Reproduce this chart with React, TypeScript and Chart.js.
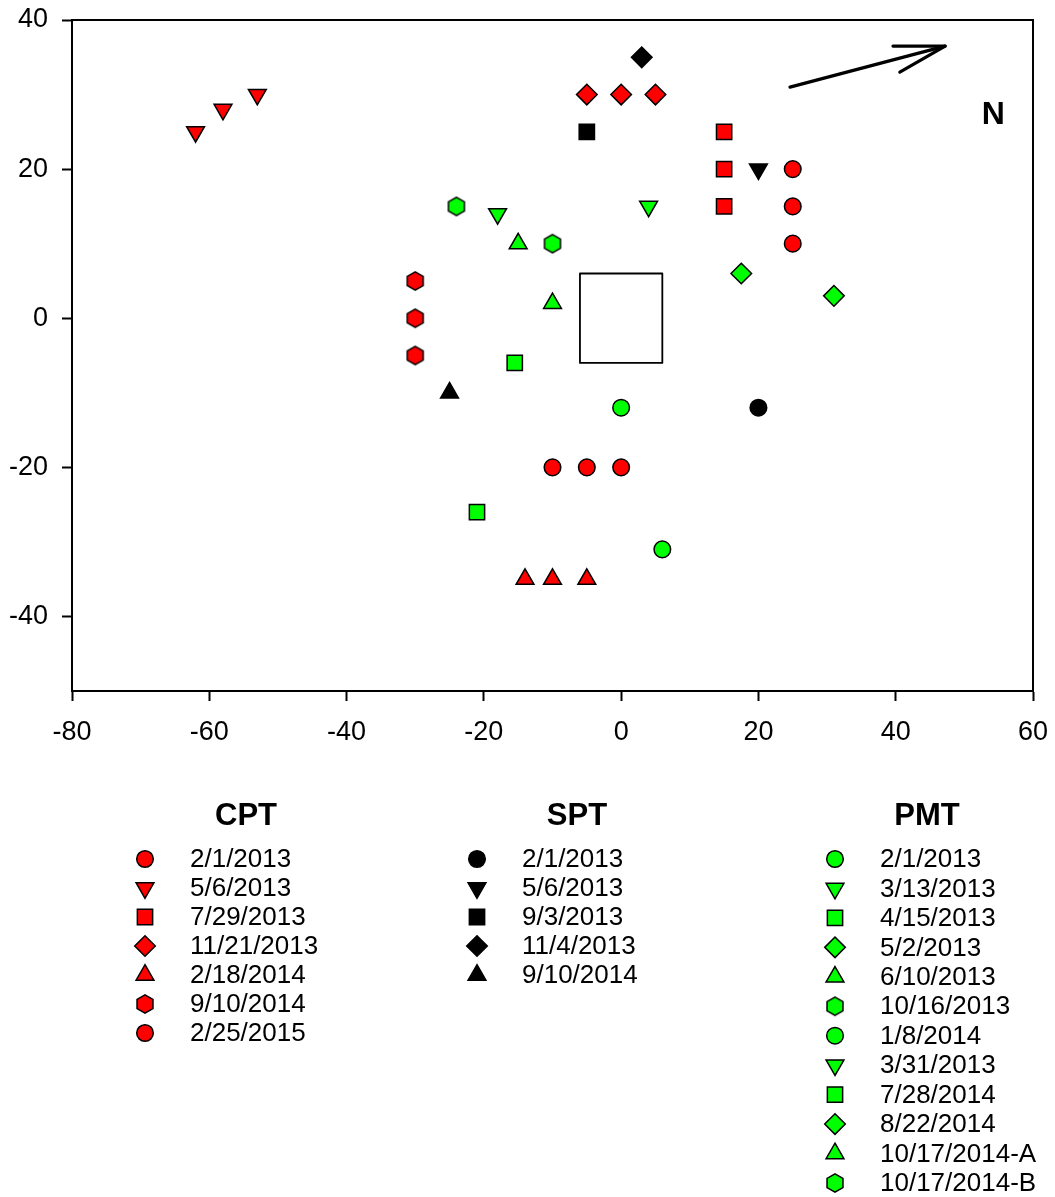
import React, { useEffect, useRef } from "react";
import { Chart, registerables } from "chart.js";
import * as helpers from "chart.js/helpers";

Chart.register(...registerables);

// ---- data -----------------------------------------------------------
const X_TICKS = [-80, -60, -40, -20, 0, 20, 40, 60];
const Y_TICKS = [-40, -20, 0, 20, 40];

const cptDates = ["2/1/2013", "5/6/2013", "7/29/2013", "11/21/2013", "2/18/2014", "9/10/2014", "2/25/2015"];
const cptX = [[25, 25, 25], [-62, -58, -53], [15, 15, 15], [-5, 0, 5], [-14, -10, -5], [-30, -30, -30], [-10, -5, 0]];
const cptY = [[20, 15, 10], [25, 28, 30], [25, 20, 15], [30, 30, 30], [-35, -35, -35], [5, 0, -5], [-20, -20, -20]];

const sptDates = ["2/1/2013", "5/6/2013", "9/3/2013", "11/4/2013", "9/10/2014"];
const sptX = [[20], [20], [-5], [3], [-25]];
const sptY = [[-12], [20], [25], [35], [-10]];

const pmtDates = [
  "2/1/2013", "3/13/2013", "4/15/2013", "5/2/2013", "6/10/2013", "10/16/2013",
  "1/8/2014", "3/31/2013", "7/28/2014", "8/22/2014", "10/17/2014-A", "10/17/2014-B",
];
const pmtX = [[0], [-18], [-15.5], [17.5], [-15], [-24], [6], [4], [-21], [31], [-10], [-10]];
const pmtY = [[-12], [14], [-6], [6], [10], [15], [-31], [15], [-26], [3], [2], [10]];

// outline of the central square
const boxX = [-6, -6, 6, 6, -6];
const boxY = [-6, 6, 6, -6, -6];

// north arrow: shaft, then head barbs
const arrowShaftX = [24.6, 47.2];
const arrowShaftY = [31, 36.5];
const arrowHeadX = [39.6, 47.2, 40.6];
const arrowHeadY = [36.5, 36.5, 33.0];
const northLabel = { text: "N", x: 54.2, y: 27.3 };

// ---- styles ---------------------------------------------------------
const RED = "#ff0000";
const GREEN = "#00ff00";
const BLACK = "#000000";
const FONT = "'Liberation Sans', Arial, Helvetica, sans-serif";

const SHAPES = [
  { style: "circle", rotation: 0, radius: 8.3 },
  { style: "triangle", rotation: 180, radius: 10.3 },
  { style: "rect", rotation: 0, radius: 10.8 },
  { style: "rectRot", rotation: 0, radius: 10.3 },
  { style: "triangle", rotation: 0, radius: 10.3 },
  { style: "hex", rotation: 0, radius: 9 },
];

function makeHexagon(fill: string, border: string): HTMLCanvasElement {
  const c = document.createElement("canvas");
  c.width = 22;
  c.height = 22;
  const ctx = c.getContext("2d")!;
  const R = 9.2;
  ctx.beginPath();
  for (let k = 0; k < 6; k++) {
    const a = (-90 + k * 60) * (Math.PI / 180);
    const px = 11 + R * Math.cos(a);
    const py = 11 + R * Math.sin(a);
    if (k === 0) ctx.moveTo(px, py);
    else ctx.lineTo(px, py);
  }
  ctx.closePath();
  ctx.fillStyle = fill;
  ctx.fill();
  ctx.lineWidth = 1.5;
  ctx.strokeStyle = border;
  ctx.stroke();
  return c;
}

function toPoints(xs: number[], ys: number[]) {
  return xs.map((x, i) => ({ x, y: ys[i] }));
}

// keep tick labels from pushing the plot area inwards
function clearOverhang(s: any) {
  s.paddingTop = 0;
  s.paddingBottom = 0;
  s.paddingLeft = 0;
  s.paddingRight = 0;
}

export default function App() {
  const canvasRef = useRef<HTMLCanvasElement | null>(null);

  useEffect(() => {
    if (!canvasRef.current) return;

    const hexImg: Record<string, HTMLCanvasElement> = {
      [RED]: makeHexagon(RED, BLACK),
      [BLACK]: makeHexagon(BLACK, BLACK),
      [GREEN]: makeHexagon(GREEN, BLACK),
    };

    const markerStyle = (i: number, color: string) => {
      const s = SHAPES[i % SHAPES.length];
      return {
        pointStyle: s.style === "hex" ? hexImg[color] : s.style,
        rotation: s.rotation,
        radius: s.radius,
      };
    };

    const groups = [
      { title: "CPT", dates: cptDates, xs: cptX, ys: cptY, color: RED, titleX: 246, markerX: 145, textX: 190, rowStep: 29 },
      { title: "SPT", dates: sptDates, xs: sptX, ys: sptY, color: BLACK, titleX: 577, markerX: 477, textX: 522, rowStep: 29 },
      { title: "PMT", dates: pmtDates, xs: pmtX, ys: pmtY, color: GREEN, titleX: 927, markerX: 835, textX: 880, rowStep: 29.45 },
    ];

    const datasets: any[] = [];
    groups.forEach((g) => {
      g.dates.forEach((d, i) => {
        const m = markerStyle(i, g.color);
        datasets.push({
          type: "scatter",
          label: `${g.title} ${d}`,
          data: toPoints(g.xs[i], g.ys[i]),
          showLine: false,
          pointStyle: m.pointStyle,
          pointRotation: m.rotation,
          pointRadius: m.radius,
          pointHoverRadius: m.radius,
          pointBackgroundColor: g.color,
          pointBorderColor: BLACK,
          pointBorderWidth: 1.5,
        });
      });
    });

    const lineSet = (label: string, xs: number[], ys: number[], width: number) => ({
      type: "scatter",
      label,
      data: toPoints(xs, ys),
      showLine: true,
      tension: 0,
      borderColor: BLACK,
      borderWidth: width,
      borderCapStyle: "round",
      borderJoinStyle: "round",
      pointRadius: 0,
      pointHoverRadius: 0,
      fill: false,
    });
    datasets.push(lineSet("box", boxX, boxY, 1.8));
    datasets.push(lineSet("arrow", arrowShaftX, arrowShaftY, 3.2));
    datasets.push(lineSet("arrowhead", arrowHeadX, arrowHeadY, 3.2));

    const framePlugin = {
      id: "frame",
      beforeDatasetsDraw(chart: any) {
        const { ctx, chartArea: a } = chart;
        ctx.save();
        ctx.strokeStyle = BLACK;
        ctx.lineWidth = 2;
        ctx.beginPath();
        ctx.moveTo(a.left, a.top);
        ctx.lineTo(a.right, a.top);
        ctx.lineTo(a.right, a.bottom);
        ctx.stroke();
        ctx.restore();
      },
    };

    const northPlugin = {
      id: "northLabel",
      afterDatasetsDraw(chart: any) {
        const { ctx, scales } = chart;
        ctx.save();
        ctx.fillStyle = BLACK;
        ctx.font = `bold 32px ${FONT}`;
        ctx.textAlign = "center";
        ctx.textBaseline = "middle";
        ctx.fillText(northLabel.text, scales.x.getPixelForValue(northLabel.x), scales.y.getPixelForValue(northLabel.y));
        ctx.restore();
      },
    };

    const legendPlugin = {
      id: "groupLegend",
      afterDraw(chart: any) {
        const { ctx } = chart;
        ctx.save();
        groups.forEach((g) => {
          ctx.fillStyle = BLACK;
          ctx.font = `bold 31px ${FONT}`;
          ctx.textAlign = "center";
          ctx.textBaseline = "middle";
          ctx.fillText(g.title, g.titleX, 816);
          g.dates.forEach((d, i) => {
            const y = 859 + i * g.rowStep;
            const m = markerStyle(i, g.color);
            ctx.fillStyle = g.color;
            ctx.strokeStyle = BLACK;
            ctx.lineWidth = 1.5;
            helpers.drawPoint(ctx, { pointStyle: m.pointStyle, rotation: m.rotation, radius: m.radius, borderWidth: 1.5 }, g.markerX, y);
            ctx.fillStyle = BLACK;
            ctx.font = `26px ${FONT}`;
            ctx.textAlign = "left";
            ctx.textBaseline = "middle";
            ctx.fillText(d, g.textX, y + 1);
          });
        });
        ctx.restore();
      },
    };

    const axisCommon = {
      grid: {
        display: true,
        drawOnChartArea: false,
        drawTicks: true,
        tickLength: 10,
        tickWidth: 2,
        tickColor: BLACK,
      },
      border: { display: true, color: BLACK, width: 2 },
    };

    const chart = new Chart(canvasRef.current, {
      type: "scatter",
      data: { datasets },
      options: {
        animation: false,
        responsive: true,
        maintainAspectRatio: false,
        layout: { padding: { top: 20, right: 22, left: 0, bottom: 446 } },
        plugins: { legend: { display: false }, tooltip: { enabled: false } },
        events: [],
        scales: {
          x: {
            type: "linear",
            min: -80,
            max: 60,
            ...axisCommon,
            afterFit: (s: any) => {
              s.height = 60;
              clearOverhang(s);
            },
            afterBuildTicks: (s: any) => {
              s.ticks = X_TICKS.map((v) => ({ value: v }));
            },
            ticks: {
              color: BLACK,
              padding: 15,
              maxRotation: 0,
              font: { family: FONT, size: 27 },
            },
          },
          y: {
            type: "linear",
            min: -50,
            max: 40,
            ...axisCommon,
            afterFit: (s: any) => {
              s.width = 72;
              clearOverhang(s);
            },
            afterBuildTicks: (s: any) => {
              s.ticks = Y_TICKS.map((v) => ({ value: v }));
            },
            ticks: {
              color: BLACK,
              padding: 14,
              font: { family: FONT, size: 27 },
            },
          },
        },
      } as any,
      plugins: [framePlugin, northPlugin, legendPlugin],
    });

    return () => chart.destroy();
  }, []);

  return (
    <div style={{ position: "absolute", left: 0, top: 0, width: 1055, height: 1197, background: "#fff" }}>
      <canvas ref={canvasRef} />
    </div>
  );
}
